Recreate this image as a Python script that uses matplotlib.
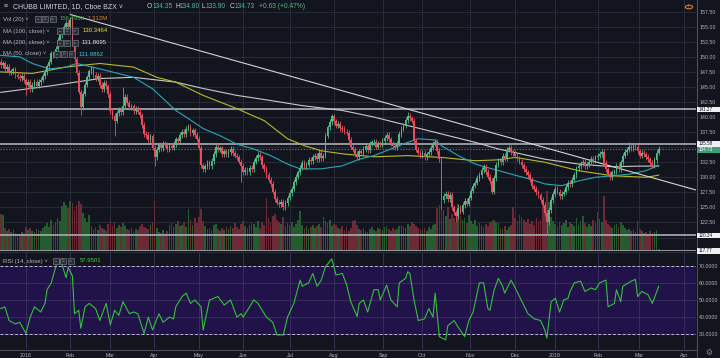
import numpy as np
import matplotlib
matplotlib.use("Agg")
import matplotlib.pyplot as plt
from matplotlib.patches import Rectangle, Circle
from matplotlib.lines import Line2D
from matplotlib.transforms import blended_transform_factory

plt.rcParams['font.family'] = ['Liberation Sans', 'DejaVu Sans']

# ---------------- data ----------------
first_index = -12          # bar index of the first candle (0 = first session of 2018)
first_open = 149.2
closes = [
    148.6, 148.9, 148.0, 148.3, 147.4, 147.6, 147.9, 147.0, 146.7, 146.5,
    146.9, 146.1, 145.4, 145.9, 144.6, 145.3, 145.9, 145.2, 145.8, 146.2,
    146.8, 147.5, 148.4, 149.2, 150.6, 150.2, 151.3, 152.8, 153.6, 154.2,
    155.0, 155.7, 154.9, 156.1, 152.3, 149.6, 147.4, 144.2, 141.6, 143.9,
    145.4, 146.6, 147.6, 148.1, 147.0, 146.4, 146.9, 145.3, 144.6, 145.7,
    145.1, 143.8, 141.0, 140.2, 139.4, 140.6, 141.2, 140.8, 141.9, 143.3,
    142.4, 141.6, 141.8, 141.0, 141.4, 140.9, 140.3, 138.7, 137.2, 137.0,
    136.2, 136.8, 134.9, 133.4, 134.6, 135.3, 134.8, 135.6, 135.4, 134.7,
    135.2, 134.9, 135.5, 136.3, 136.0, 137.0, 137.6, 137.2, 138.1, 138.4,
    137.3, 137.8, 137.0, 136.4, 134.9, 132.0, 131.3, 131.8, 132.4, 131.9,
    132.7, 133.9, 135.1, 134.6, 134.8, 133.9, 134.3, 133.8, 134.2, 134.7,
    134.0, 133.6, 133.3, 132.6, 131.9, 130.9, 131.2, 130.8, 131.6, 131.4,
    132.6, 133.2, 133.7, 133.3, 132.0, 131.4, 130.4, 129.6, 128.9, 127.6,
    126.4, 125.8, 125.5, 125.9, 125.0, 125.7, 126.6, 127.4, 128.1, 129.2,
    130.1, 130.8, 131.6, 132.4, 131.8, 132.1, 132.9, 132.7, 133.4, 133.6,
    133.0, 134.1, 133.2, 133.6, 136.9, 138.3, 139.2, 140.1, 139.3, 138.6,
    138.9, 138.2, 138.0, 137.6, 137.4, 136.2, 135.1, 134.6, 133.9, 133.4,
    134.3, 134.0, 134.7, 135.2, 134.5, 135.6, 135.8, 135.9, 135.1, 135.6,
    135.4, 136.1, 136.5, 137.1, 136.3, 135.6, 135.2, 135.0, 135.6, 137.2,
    138.1, 138.6, 139.5, 140.2, 139.8, 139.4, 136.1, 134.6, 134.1, 133.6,
    134.0, 133.4, 133.8, 134.2, 134.9, 135.6, 135.9, 134.4, 133.0, 126.2,
    126.9, 127.3, 126.4, 127.1, 125.0, 124.2, 123.6, 124.9, 124.3, 125.4,
    126.1, 125.6, 126.6, 127.8, 128.6, 129.1, 129.9, 130.4, 131.2, 131.7,
    130.9, 130.1, 129.4, 127.6, 129.9, 132.1, 132.8, 132.5, 133.6, 133.1,
    134.6, 134.9, 134.2, 134.0, 133.6, 133.1, 132.6, 132.0, 131.4, 130.8,
    130.4, 129.6, 128.5, 128.1, 127.5, 127.0, 126.2, 125.4, 124.1, 122.6,
    124.6, 126.2, 127.2, 128.1, 127.6, 126.9, 127.3, 127.6, 128.4, 129.1,
    128.9, 129.6, 130.4, 131.5, 131.9, 132.3, 132.6, 131.8, 132.1, 132.6,
    133.1, 132.9, 133.3, 133.6, 133.9, 134.2, 132.4, 131.3, 130.6, 130.0,
    130.8, 131.0, 131.9, 131.4, 132.5, 133.6, 134.2, 134.6, 135.1, 134.8,
    135.3, 135.0, 134.3, 133.6, 134.1, 133.8, 133.4, 133.0, 132.4, 132.0,
    132.9, 134.1, 134.73,
]
volumes_m = [
    3.7, 3.6, 2.3, 2.0, 2.2, 1.9, 2.1, 1.8, 1.6, 1.7,
    1.9, 1.8, 2.4, 2.1, 2.3, 2.0, 1.9, 2.2, 2.1, 2.0,
    2.3, 2.5, 2.8, 2.4, 3.1, 2.6, 2.9, 3.3, 3.0, 4.5,
    4.9, 4.6, 4.3, 5.0, 4.8, 4.1, 4.6, 5.0, 4.7, 3.8,
    3.3, 2.9, 3.6, 2.5, 2.2, 2.4, 2.1, 2.6, 2.3, 2.2,
    2.0, 2.7, 3.0, 2.5, 2.9, 2.3, 2.6, 2.4, 2.8, 2.5,
    2.2, 2.1, 2.3, 2.0, 2.2, 2.1, 2.5, 2.7, 2.4, 2.3,
    2.2, 2.6, 2.9, 5.0, 2.3, 1.9, 1.8, 2.1, 1.7, 2.0,
    2.6, 2.8, 2.4, 2.7, 3.0, 2.5, 2.6, 2.9, 2.4, 4.2,
    3.1, 2.6, 3.3, 2.8, 3.4, 4.2, 3.0, 2.5, 2.2, 2.3,
    2.1, 2.6, 2.7, 2.2, 2.0, 2.3, 2.1, 2.4, 2.2, 2.5,
    2.3, 2.8, 2.4, 2.2, 2.7, 3.0, 2.5, 2.3, 2.6, 2.9,
    2.7, 2.4, 3.0, 2.3, 2.9, 2.6, 5.3, 3.3, 2.8, 3.5,
    3.7, 3.1, 2.9, 2.7, 3.4, 2.5, 2.8, 2.6, 2.9, 2.4,
    2.7, 3.1, 4.0, 2.6, 2.3, 2.5, 2.2, 2.4, 2.6, 2.3,
    2.5, 2.7, 2.4, 3.4, 3.0, 2.8, 3.1, 2.5, 2.7, 2.6,
    2.3, 2.2, 2.5, 2.1, 2.4, 2.0, 2.3, 3.0, 3.1, 2.6,
    2.2, 2.1, 2.3, 2.0, 1.9, 2.2, 2.4, 2.1, 2.0, 2.3,
    2.2, 2.1, 2.4, 2.5, 2.2, 2.0, 2.3, 2.1, 2.2, 2.5,
    2.6, 2.4, 2.3, 2.7, 2.5, 2.9, 2.7, 2.5, 2.3, 2.2,
    2.1, 2.3, 2.0, 2.4, 2.2, 2.6, 2.7, 4.3, 4.6, 4.7,
    4.1, 3.5, 4.4, 3.2, 3.7, 3.3, 2.9, 4.7, 3.5, 3.1,
    3.3, 2.8, 3.6, 3.0, 2.7, 3.1, 2.5, 2.8, 2.6, 2.4,
    2.7, 2.5, 2.9, 3.0, 3.1, 2.9, 2.8, 2.3, 2.2, 2.5,
    2.1, 2.4, 2.6, 4.4, 3.3, 3.0, 3.6, 3.4, 3.1, 2.9,
    3.2, 2.7, 3.0, 2.6, 3.3, 2.9, 3.1, 4.8, 4.5, 6.0,
    4.9, 3.4, 3.0, 2.7, 2.5, 2.9, 2.6, 2.8, 3.1, 2.4,
    2.9, 2.7, 2.5, 3.3, 2.6, 3.0, 3.5, 2.8, 2.4, 2.7,
    2.5, 3.1, 2.8, 3.9, 3.2, 2.9, 5.5, 3.1, 2.7, 2.5,
    2.3, 2.6, 2.7, 2.4, 2.9, 2.6, 2.3, 2.1, 2.2, 2.0,
    2.1, 1.9, 3.0, 2.2, 2.0, 1.8, 1.9, 1.7, 2.0, 1.8,
    1.9, 2.1, 0.16,
]
# notable wick extremes (bar index: price)
low_marks = {0: 143.6, 26: 140.3, 42: 136.9, 61: 131.9, 102: 129.2, 122: 124.6,
             197: 124.8, 204: 122.6, 247: 120.34}
high_marks = {21: 156.7, 46: 145.0, 145: 140.5, 181: 140.8, 286: 135.8}

ma50_pts = [(-12, 150.25), (-3, 150.0), (3, 148.9), (11, 148.0), (19, 148.3), (24, 148.9),
            (35, 148.0), (51, 146.6), (60, 144.7), (71, 141.1), (77, 139.75), (84, 138.1),
            (92, 136.9), (100, 135.5), (108, 134.7), (116, 133.6), (124, 132.2), (130, 131.4),
            (140, 131.4), (150, 131.9), (158, 133.0), (165, 133.6), (173, 134.7), (181, 135.8),
            (186, 136.4), (194, 136.2), (197, 135.25), (205, 133.6), (213, 132.2), (221, 131.4),
            (233, 130.25), (239, 129.7), (246, 128.9), (254, 128.6), (262, 129.4), (270, 130.0),
            (278, 130.25), (286, 130.5), (294, 131.1), (300, 131.99)]
ma100_pts = [(-12, 147.5), (3, 147.25), (19, 148.3), (35, 148.9), (51, 148.3), (62, 146.6),
             (71, 145.8), (84, 143.6), (100, 141.4), (113, 139.4), (124, 136.4), (132, 135.25),
             (140, 134.4), (150, 133.9), (165, 133.4), (181, 133.6), (197, 133.3), (213, 132.75),
             (224, 132.9), (232, 133.3), (246, 132.5), (262, 131.1), (278, 130.25), (294, 130.0),
             (300, 130.35)]
ma200_pts = [(-12, 144.1), (12, 145.2), (35, 146.4), (51, 146.6), (71, 145.8), (84, 144.75),
             (100, 143.6), (116, 142.75), (131, 141.9), (150, 141.1), (165, 140.0), (181, 138.6),
             (197, 137.2), (213, 135.8), (224, 134.7), (232, 134.1), (246, 133.0), (262, 132.2),
             (278, 131.75), (290, 131.85), (300, 131.87)]
rsi_pts = [(-12, 45), (-10, 46), (-8, 38), (-5, 36), (-3, 37), (0, 30.5), (2, 40), (4, 46), (7, 43),
           (9, 48), (10, 56), (12, 60), (14, 69), (15, 73.5), (17, 71), (19, 63), (20, 69), (22, 64),
           (23, 42), (25, 44), (26, 33.5), (28, 46), (30, 48), (33, 45), (35, 38), (38, 48), (40, 35.5),
           (42, 44), (44, 41), (46, 49), (49, 42), (51, 43), (53, 42), (56, 30.5), (58, 40), (60, 32.5),
           (63, 42), (65, 37), (68, 40), (70, 39), (71, 46), (74, 52), (76, 54), (78, 48), (80, 50),
           (83, 46), (84, 32.5), (87, 50), (91, 52), (94, 47), (97, 50), (100, 40), (102, 42), (103, 40),
           (108, 50), (110, 48), (114, 40), (117, 37), (119, 29.6), (122, 29.6), (124, 40), (127, 48),
           (130, 61.6), (131, 58), (134, 60), (136, 65.5), (138, 58), (140, 61.6), (142, 69.4), (145, 74),
           (147, 64.6), (150, 65.5), (152, 59), (154, 49), (157, 40.3), (158, 48), (160, 50), (162, 43),
           (165, 56), (167, 56), (168, 50), (171, 58.7), (173, 50), (176, 46), (177, 60), (180, 62.6),
           (181, 66.5), (182, 65.5), (184, 50), (186, 38), (189, 39), (191, 45), (193, 40), (194, 54),
           (196, 28.6), (199, 26.7), (200, 35), (203, 38), (205, 34), (208, 28.6), (210, 38), (212, 43),
           (215, 60), (217, 60), (219, 45), (220, 44), (222, 56), (224, 62.6), (226, 58), (227, 54),
           (230, 61.6), (232, 57), (234, 52), (238, 42), (241, 39), (244, 38), (246, 32.5), (247, 27.7),
           (249, 49), (251, 51), (253, 43), (255, 50), (257, 51), (258, 55), (260, 60), (263, 61),
           (265, 55), (268, 57), (270, 56), (272, 60), (275, 61.6), (276, 46), (279, 48), (280, 56),
           (282, 49), (283, 58), (287, 61), (289, 62), (290, 52), (292, 55), (295, 53), (297, 48),
           (300, 57.95)]
trend_pts = [(21, 157.04), (317.7, 127.89)]
levels = [141.27, 135.58, 120.34, 117.77]
last_price = 134.73
price_ticks = [120.0, 122.5, 125.0, 127.5, 130.0, 132.5, 135.0, 137.5, 140.0, 142.5,
               145.0, 147.5, 150.0, 152.5, 155.0, 157.5]
hidden_price_labels = [120.0, 135.0]     # covered by the price badges in the reference
rsi_ticks = [30, 40, 50, 60, 70]
month_labels = ['2018', 'Feb', 'Mar', 'Apr', 'May', 'Jun', 'Jul', 'Aug', 'Sep', 'Oct',
                'Nov', 'Dec', '2019', 'Feb', 'Mar', 'Apr']
month_pos = [0, 20.9, 39.8, 60.7, 82.0, 102.9, 125.2, 146.0, 169.3, 187.8,
             210.5, 231.9, 250.8, 271.2, 290.6, 312.0]

# ---------------- style ----------------
BG = '#12151d'
GRID = '#2b2f3b'
TXT = '#b2b5be'
UP = '#53b987'
DN = '#eb4d5c'
VUP = '#245c2f'
VDN = '#6b2a35'
W, H = 720, 358

fig = plt.figure(figsize=(7.2, 3.58), dpi=100, facecolor=BG)
PB = 251   # price pane bottom (px)
RT, RB = 252, 349
axp = fig.add_axes([0, 1 - PB / H, 696 / W, PB / H], facecolor=BG)
axr = fig.add_axes([0, 1 - RB / H, 696 / W, (RB - RT) / H], facecolor=BG)

n = min(len(closes), len(volumes_m))
c = np.array(closes[:n])
o = np.array([first_open] + closes[:n - 1])
x = np.arange(first_index, first_index + n)
hi = np.maximum(o, c) + 0.45
lo = np.minimum(o, c) - 0.45
for k, v in low_marks.items():
    lo[k - first_index] = v
for k, v in high_marks.items():
    hi[k - first_index] = v
up = c >= o

XL = (-12.33, 317.7)
YL = (117.76, 159.44)
VOL_TOP = 25.1

# volume (bottom of price pane)
vol = np.array(volumes_m[:n])
axp.bar(x, vol / VOL_TOP, width=0.8, bottom=0, color=np.where(up, VUP, VDN), lw=0,
        transform=axp.get_xaxis_transform(), zorder=1)

# levels and last price
for lv in levels:
    axp.axhline(lv, color='#9fa2aa', lw=1.3, zorder=2)
axp.axhline(last_price, color='#2f8f6f', lw=0.7, ls=(0, (1.5, 1.5)), zorder=2)

# moving averages
for pts, col in [(ma200_pts, '#c9c9c9'), (ma100_pts, '#b9b92e'), (ma50_pts, '#2aa7b8')]:
    axp.plot([p[0] for p in pts], [p[1] for p in pts], color=col, lw=0.8, zorder=3)
# trend line
axp.plot([p[0] for p in trend_pts], [p[1] for p in trend_pts], color='#d4d4d4', lw=0.8, zorder=3)

# candles
col = np.where(up, UP, DN)
axp.vlines(x, lo, hi, colors=col, lw=0.6, zorder=4)
axp.bar(x, np.maximum(np.abs(c - o), 0.1), bottom=np.minimum(o, c), width=0.82,
        color=col, lw=0, zorder=5)

axp.set_xlim(*XL)
axp.set_ylim(*YL)
axp.set_yticks(price_ticks)
axp.set_yticklabels(['' if t in hidden_price_labels else '%.2f' % t for t in price_ticks])
axp.yaxis.tick_right()
axp.set_xticks(month_pos)
axp.tick_params(axis='x', labelbottom=False, length=0)
axp.tick_params(axis='y', length=0, labelsize=3.8, colors=TXT, pad=2.2)
axp.grid(True, color=GRID, lw=0.6, zorder=0)
axp.set_axisbelow(True)
for s in axp.spines.values():
    s.set_visible(False)

# RSI pane
rx = [p[0] for p in rsi_pts]
ry = [p[1] for p in rsi_pts]
axr.axhspan(30, 70, color='#21124a', zorder=0, lw=0)
axr.set_xlim(*XL)
axr.set_ylim(21.4, 78)
axr.set_yticks(rsi_ticks)
axr.set_yticklabels(['%.4f' % t for t in rsi_ticks])
axr.yaxis.tick_right()
axr.set_xticks(month_pos)
axr.set_xticklabels(month_labels)
axr.tick_params(axis='x', length=0, labelsize=3.8, colors=TXT, pad=2.6)
axr.tick_params(axis='y', length=0, labelsize=3.8, colors=TXT, pad=2.2)
axr.grid(True, color='#3b3260', lw=0.6, zorder=1)
axr.set_axisbelow(True)
for lv in (30, 70):
    axr.axhline(lv, color='#bdb6d6', lw=0.7, ls=(0, (3, 2)), zorder=2)
axr.plot(rx, ry, color='#34c13a', lw=0.8, zorder=3)
for s in axr.spines.values():
    s.set_visible(False)

# separators
def fl(x0, y0, x1, y1, color, lw):
    fig.add_artist(Line2D([x0 / W, x1 / W], [1 - y0 / H, 1 - y1 / H], color=color, lw=lw,
                          transform=fig.transFigure))
fl(696.5, 0, 696.5, H, '#4b4f5a', 0.8)
fl(0, 251.5, W, 251.5, '#2a2e39', 0.8)
fl(0, 349.5, 696.5, 349.5, '#4b4f5a', 0.8)

# right-axis badges
tb = blended_transform_factory(fig.transFigure, axp.transData)
ppx = (YL[1] - YL[0]) / PB          # price units per pixel
box_h = 5.8 * ppx
gap = 6.0 * ppx
placed = []
badges = [(141.27, '#f0f0f0', '#131722'), (135.58, '#f0f0f0', '#131722'),
          (last_price, '#3b9e7c', '#ffffff'), (120.34, '#f0f0f0', '#131722'),
          (117.77, '#f0f0f0', '#131722')]
for val, fc, tc in badges:
    yc = val
    if placed and placed[-1] - yc < gap:
        yc = placed[-1] - gap
    placed.append(yc)
    fig.add_artist(Rectangle((697 / W, yc - box_h / 2), 23 / W, box_h, transform=tb,
                             facecolor=fc, edgecolor='none', zorder=10, clip_on=False))
    fig.text(699 / W, yc, '%.2f' % val, transform=tb, color=tc, fontsize=3.3,
             va='center', ha='left', zorder=11)

# header / legends
def ft(xp, yp, s, color=TXT, size=4.3, **kw):
    fig.text(xp / W, 1 - yp / H, s, color=color, fontsize=size, va='center', ha='left', **kw)

def icons(xp, yp):
    for k in range(3):
        x0 = xp + k * 7.3
        fig.add_artist(Rectangle((x0 / W, 1 - (yp + 3) / H), 6 / W, 6 / H,
                                 transform=fig.transFigure, facecolor='#2a2e39',
                                 edgecolor='#70737d', lw=0.5))
    ft(xp + 1.3, yp, '\u25cf', '#8a8d96', 2.4)
    ft(xp + 8.7, yp, '\u25a1', '#8a8d96', 2.8)
    ft(xp + 16.0, yp, '\u00d7', '#8a8d96', 3.8)

TS = 4.8
em = TS / 72 * 100
ft(4, 6.7, '\u2261', TXT, 5.0)
ft(13, 6.7, 'CHUBB LIMITED, 1D, Cboe BZX \u02c5', '#d1d4dc', 5.0)
for letter, xl, val, wl in [('O', 147, '134.35', 0.778), ('H', 175, '134.80', 0.722),
                            ('L', 202, '133.90', 0.556), ('C', 230, '134.73', 0.722)]:
    ft(xl, 6.7, letter, '#d1d4dc', TS)
    ft(xl + wl * em, 6.7, val, UP, TS)
ft(259, 6.7, '+0.63 (+0.47%)', UP, TS)

ft(3, 19, 'Vol (20) \u02c5')
icons(35, 19)
ft(60, 19, '156.495K', '#4caf50')
ft(88, 19, '1.312M', '#e0812e')
ft(3, 31, 'MA (100, close) \u02c5')
icons(57, 31)
ft(83, 31, '130.3464', '#e6e64a')
ft(3, 42.7, 'MA (200, close) \u02c5')
icons(57, 42.7)
ft(82, 42.7, '131.8695', '#e6e6e6')
ft(3, 54, 'MA (50, close) \u02c5')
icons(54, 54)
ft(79, 54, '131.9862', '#3fc6d8')
ft(3, 261, 'RSI (14, close) \u02c5')
icons(53, 261)
ft(80, 261, '57.9501', '#3ccf3c')

# top-right and bottom-right icons
fig.add_artist(Circle((689 / W, 1 - 7 / H), 3.6 / W, transform=fig.transFigure,
                      facecolor='none', edgecolor='#e07a2f', lw=0.8))
ft(687.6, 7, '!', '#e07a2f', 4.0)
ft(705, 353, '\u2699', '#8a8d96', 5.5)

fig.savefig('out.png', dpi=100, facecolor=BG)
